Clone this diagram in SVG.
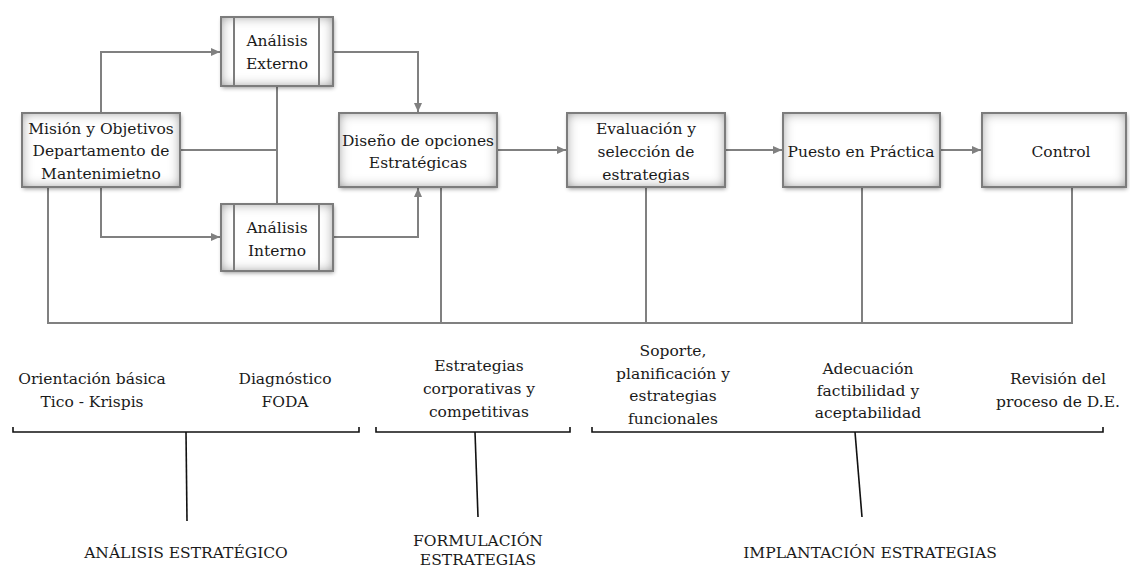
<svg xmlns="http://www.w3.org/2000/svg" width="1130" height="570" viewBox="0 0 1130 570">
<defs>
<style>
.box{fill:#ffffff;filter:url(#shade)}
.bd{fill:none;stroke:#7c7c7c;stroke-width:2}
.in{stroke:#7c7c7c;stroke-width:2}
.t{font-family:"DejaVu Serif",serif;font-size:15.5px;fill:#1a1a1a;text-anchor:middle}
.l{font-family:"DejaVu Serif",serif;font-size:15.5px;fill:#1a1a1a;text-anchor:middle}
.c{fill:none;stroke:#808080;stroke-width:2}
.a{marker-end:url(#arr)}
.br{fill:none;stroke:#111111;stroke-width:1.6}
</style>
<filter id="shade" x="-10%" y="-15%" width="125%" height="135%">
<feFlood flood-color="#7a7a7a" result="c"/>
<feComposite in="c" in2="SourceAlpha" operator="out" result="outside"/>
<feGaussianBlur in="outside" stdDeviation="6" result="b"/>
<feComposite in="b" in2="SourceAlpha" operator="in" result="inner"/>
<feGaussianBlur in="SourceAlpha" stdDeviation="2" result="sb"/>
<feOffset in="sb" dx="1" dy="2" result="so"/>
<feComponentTransfer in="so" result="shadow"><feFuncA type="linear" slope="0.4"/></feComponentTransfer>
<feMerge><feMergeNode in="shadow"/><feMergeNode in="SourceGraphic"/><feMergeNode in="inner"/></feMerge>
</filter>
<marker id="arr" markerUnits="userSpaceOnUse" markerWidth="10" markerHeight="10" refX="9" refY="5" orient="auto">
<path d="M0,1 L9,5 L0,9 Z" fill="#808080"/>
</marker>
</defs>

<g id="connectors">
<path class="c a" d="M101,113 V52 H220"/>
<path class="c a" d="M101,187 V237 H220"/>
<path class="c" d="M180,150 H277"/>
<path class="c" d="M277,86 V204"/>
<path class="c a" d="M333,52 H418 V112"/>
<path class="c a" d="M333,237 H418 V188"/>
<path class="c a" d="M497,150 H566"/>
<path class="c a" d="M725,150 H782"/>
<path class="c a" d="M940,150 H981"/>
<path class="c" d="M48,187 V323 H1072 V187"/>
<path class="c" d="M441,187 V323"/>
<path class="c" d="M646,187 V323"/>
<path class="c" d="M862,187 V323"/>
</g>

<g id="mision">
<rect class="box" x="22" y="113" width="158" height="74"/>
<rect class="bd" x="22" y="113" width="158" height="74"/>
<text class="t" x="101" y="134">Misión y Objetivos</text>
<text class="t" x="101" y="156">Departamento de</text>
<text class="t" x="101" y="179">Mantenimietno</text>
</g>

<g id="analisis-externo">
<rect class="box" x="221" y="17" width="112" height="69"/>
<rect class="bd" x="221" y="17" width="112" height="69"/>
<line class="in" x1="234" y1="17" x2="234" y2="86"/>
<line class="in" x1="319" y1="17" x2="319" y2="86"/>
<text class="t" x="277" y="46">Análisis</text>
<text class="t" x="277" y="69">Externo</text>
</g>

<g id="analisis-interno">
<rect class="box" x="221" y="204" width="112" height="67"/>
<rect class="bd" x="221" y="204" width="112" height="67"/>
<line class="in" x1="234" y1="204" x2="234" y2="271"/>
<line class="in" x1="319" y1="204" x2="319" y2="271"/>
<text class="t" x="277" y="233">Análisis</text>
<text class="t" x="277" y="256">Interno</text>
</g>

<g id="diseno">
<rect class="box" x="339" y="113" width="158" height="74"/>
<rect class="bd" x="339" y="113" width="158" height="74"/>
<text class="t" x="418" y="146">Diseño de opciones</text>
<text class="t" x="418" y="168">Estratégicas</text>
</g>

<g id="evaluacion">
<rect class="box" x="567" y="113" width="158" height="74"/>
<rect class="bd" x="567" y="113" width="158" height="74"/>
<text class="t" x="646" y="134">Evaluación y</text>
<text class="t" x="646" y="157">selección de</text>
<text class="t" x="646" y="180">estrategias</text>
</g>

<g id="puesto">
<rect class="box" x="783" y="113" width="157" height="74"/>
<rect class="bd" x="783" y="113" width="157" height="74"/>
<text class="t" x="861" y="157">Puesto en Práctica</text>
</g>

<g id="control">
<rect class="box" x="982" y="113" width="144" height="74"/>
<rect class="bd" x="982" y="113" width="144" height="74"/>
<text class="t" x="1061" y="157">Control</text>
</g>

<g id="brackets">
<path class="br" d="M13,427 V432 H359 V427"/>
<path class="br" d="M186,432 L187,521"/>
<path class="br" d="M376,427 V432 H570 V427"/>
<path class="br" d="M475,432 L478,517"/>
<path class="br" d="M592,427 V432 H1103 V427"/>
<path class="br" d="M855,432 L862,517"/>
</g>

<g id="labels">
<text class="l" x="92" y="384">Orientación básica</text>
<text class="l" x="92" y="407">Tico - Krispis</text>
<text class="l" x="285" y="384">Diagnóstico</text>
<text class="l" x="285" y="407">FODA</text>
<text class="l" x="479" y="371">Estrategias</text>
<text class="l" x="479" y="394">corporativas y</text>
<text class="l" x="479" y="417">competitivas</text>
<text class="l" x="673" y="356">Soporte,</text>
<text class="l" x="673" y="379">planificación y</text>
<text class="l" x="673" y="401">estrategias</text>
<text class="l" x="673" y="424">funcionales</text>
<text class="l" x="868" y="374">Adecuación</text>
<text class="l" x="868" y="396">factibilidad y</text>
<text class="l" x="868" y="418">aceptabilidad</text>
<text class="l" x="1058" y="384">Revisión del</text>
<text class="l" x="1058" y="407">proceso de D.E.</text>
<text class="l" x="186" y="558">ANÁLISIS ESTRATÉGICO</text>
<text class="l" x="478" y="546">FORMULACIÓN</text>
<text class="l" x="478" y="565">ESTRATEGIAS</text>
<text class="l" x="870" y="558">IMPLANTACIÓN ESTRATEGIAS</text>
</g>
</svg>
